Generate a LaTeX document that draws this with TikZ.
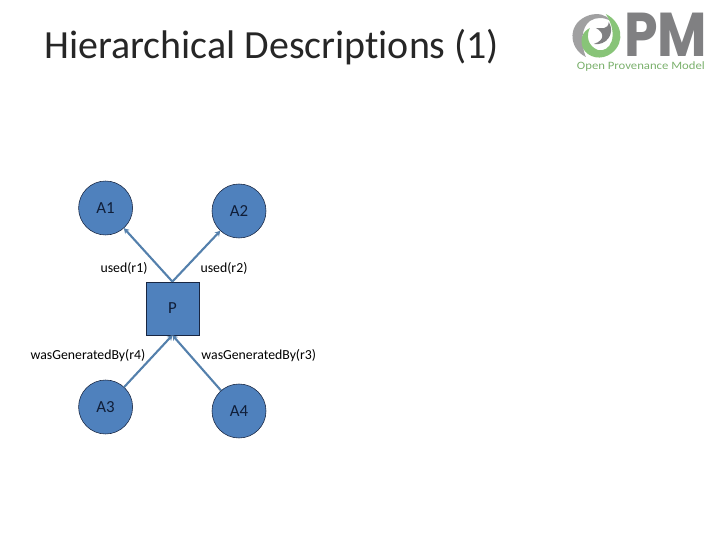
\documentclass[tikz,border=0pt]{standalone}
\usepackage{fontspec}
\setmainfont[Ligatures=NoCommon]{Carlito}
\newfontfamily\logofont{Poppins}
\usetikzlibrary{arrows.meta, positioning}
\definecolor{cFill}{RGB}{79,129,189}
\definecolor{cEdge}{RGB}{24,38,66}
\definecolor{cLine}{RGB}{84,128,172}
\definecolor{cText}{RGB}{16,30,56}
\definecolor{cLogoGray}{RGB}{128,128,130}
\definecolor{cLogoGreen}{RGB}{136,196,120}
\tikzset{
	artifact/.style={circle, draw=cEdge, fill=cFill, minimum size=1.35cm, inner sep=0pt, text=cText, font=\fontsize{12}{14}\selectfont},
	process/.style ={rectangle, draw=cEdge, fill=cFill, minimum size=1.325cm, inner sep=0pt, text=cText, font=\fontsize{12}{14}\selectfont},
	dep/.style     ={-{Stealth[length=1.3mm, width=1.5mm]}, line width=1.5pt, cLine},
	edgelabel/.style={font=\fontsize{9.8}{11}\selectfont, text=black, inner sep=0pt},
}
\begin{document}
\begin{tikzpicture}
	\useasboundingbox (0,0) rectangle (18,13.5);
	% title
	\node[font=\fontsize{28.4}{32}\selectfont, anchor=west, inner sep=0pt, text=black!85] (title) at (1.1,12.33) {Hierarchical Descriptions (1)};
	% nodes
	\node[artifact] (a1) at (2.64,8.3) {A1};
	\node[artifact] (a2) at (5.975,8.225) {A2};
	\node[artifact] (a3) at (2.64,3.325) {A3};
	\node[artifact] (a4) at (5.975,3.225) {A4};
	\node[process] (p) at (4.31,5.79) {P};
	% dependencies
	\draw[dep] (p.north) -- (a1);
	\draw[dep] (p.north) -- (a2);
	\draw[dep] (a3) -- (p.south);
	\draw[dep] (a4) -- (p.south);
	% labels
	\node[edgelabel] (r1) at (3.1,6.8) {used(r1)};
	\node[edgelabel] (r2) at (5.6,6.8) {used(r2)};
	\node[edgelabel] (r4) at (2.2,4.62) {wasGeneratedBy(r4)};
	\node[edgelabel] (r3) at (6.47,4.62) {wasGeneratedBy(r3)};
	% logo
	\begin{scope}[shift={(0,13.5)}, x=0.025cm, y=-0.025cm]
		\fill[cLogoGray!75] (586,57) .. controls (568,48) and (567,22) .. (590,15) .. controls (598,13) and (606,14) .. (611,21) .. controls (604,17) and (596,17) .. (590,21) .. controls (582,27) and (580,42) .. (586,57) -- cycle;
		\fill[cLogoGreen] (606,14) .. controls (622,22) and (626,42) .. (612,53) .. controls (602,61) and (588,58) .. (583,48) .. controls (580,40) and (582,32) .. (590,28) .. controls (586,36) and (588,46) .. (598,50) .. controls (610,53) and (620,36) .. (606,14) -- cycle;
		\fill[cLogoGray] (594,44) .. controls (606,46) and (616,34) .. (609,22) .. controls (608,30) and (602,28) .. (596,28) .. controls (604,32) and (606,40) .. (594,44) -- cycle;
		\node[cLogoGray, font=\logofont\bfseries\fontsize{44}{44}\selectfont, inner sep=0pt, xscale=0.87, text height=30pt, text depth=0pt] (pm) at (666,35) {PM};
		\node[cLogoGreen!90!black, font=\fontsize{8}{9}\selectfont, inner sep=0pt, xscale=1.13, text height=5pt, text depth=1pt] (logotext) at (641,67) {Open Provenance Model};
	\end{scope}
\end{tikzpicture}
\end{document}
